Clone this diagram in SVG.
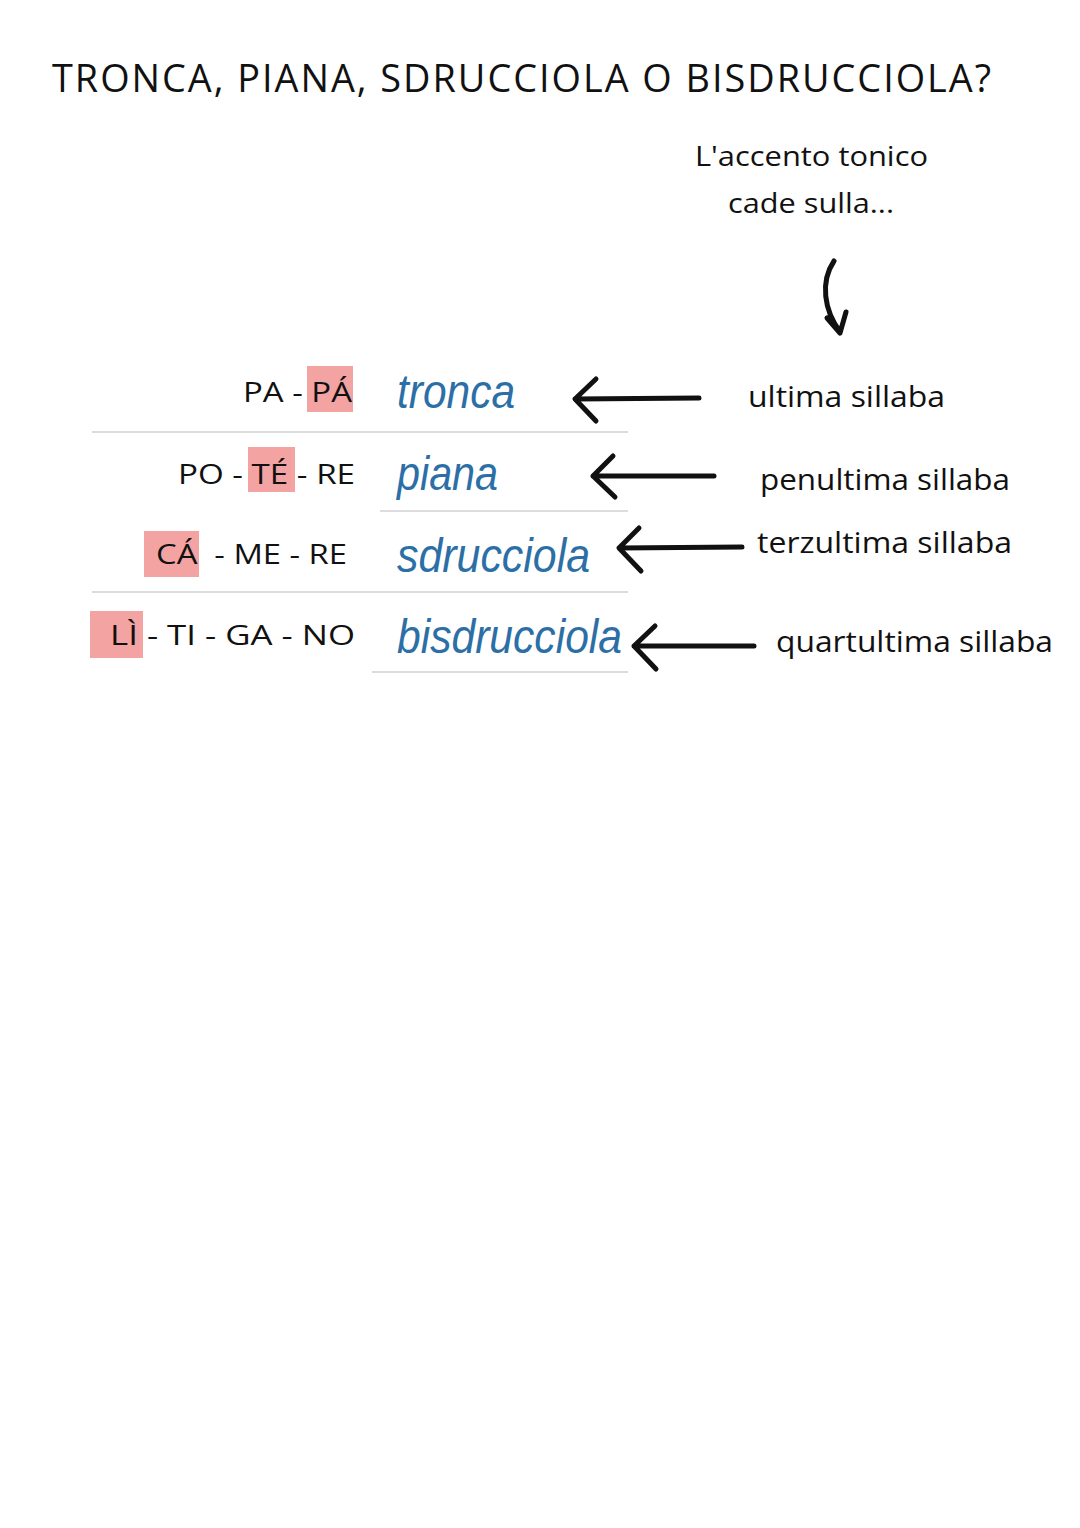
<svg xmlns="http://www.w3.org/2000/svg" width="1080" height="1528" viewBox="0 0 1080 1528">
<style>
.hand{font-family:"Open Sans","Noto Sans",sans-serif;fill:#111}
.title{font-size:38px;letter-spacing:2px}
.note{font-size:28px}
.syl{font-size:27px}
.lbl{font-size:29px}
.blue{font-family:"Liberation Sans",Arial,sans-serif;font-style:italic;font-size:48px;fill:#2c6fa6}
.hl{fill:#f4a3a3}
.sep{stroke:#dcdcdc;stroke-width:2}
.arr{stroke:#111;stroke-width:5;fill:none;stroke-linecap:round;stroke-linejoin:round}
</style>
<rect width="1080" height="1528" fill="#ffffff"/>
<g id="title"><text class="hand title" x="52" y="92" textLength="941" lengthAdjust="spacingAndGlyphs">TRONCA, PIANA, SDRUCCIOLA O BISDRUCCIOLA?</text></g>
<g id="note">
<text class="hand note" x="695" y="166" textLength="233" lengthAdjust="spacingAndGlyphs">L'accento tonico</text>
<text class="hand note" x="728" y="213" textLength="166" lengthAdjust="spacingAndGlyphs">cade sulla...</text>
</g>
<g id="table">
<line class="sep" x1="92" y1="432" x2="628" y2="432"/>
<line class="sep" x1="380" y1="511" x2="628" y2="511"/>
<line class="sep" x1="92" y1="592" x2="628" y2="592"/>
<line class="sep" x1="372" y1="672" x2="628" y2="672"/>
</g>
<g id="row1">
<rect class="hl" x="307" y="366" width="46" height="46"/>
<text class="hand syl" x="243" y="402" textLength="109" lengthAdjust="spacingAndGlyphs">PA - PÁ</text>
<text class="blue" x="397" y="408" textLength="118" lengthAdjust="spacingAndGlyphs">tronca</text>
</g>
<g id="row2">
<rect class="hl" x="248" y="447" width="47" height="45"/>
<text class="hand syl" x="178" y="484" textLength="177" lengthAdjust="spacingAndGlyphs">PO - TÉ - RE</text>
<text class="blue" x="397" y="490" textLength="101" lengthAdjust="spacingAndGlyphs">piana</text>
</g>
<g id="row3">
<rect class="hl" x="144" y="531" width="55" height="46"/>
<text class="hand syl" x="156" y="564" textLength="191" lengthAdjust="spacingAndGlyphs" xml:space="preserve">CÁ  - ME - RE</text>
<text class="blue" x="397" y="572" textLength="193" lengthAdjust="spacingAndGlyphs">sdrucciola</text>
</g>
<g id="row4">
<rect class="hl" x="90" y="611" width="53" height="47"/>
<text class="hand syl" x="110" y="645" textLength="245" lengthAdjust="spacingAndGlyphs">LÌ - TI - GA - NO</text>
<text class="blue" x="397" y="653" textLength="225" lengthAdjust="spacingAndGlyphs">bisdrucciola</text>
</g>
<g id="labels">
<text class="hand lbl" x="748" y="407" textLength="197" lengthAdjust="spacingAndGlyphs">ultima sillaba</text>
<text class="hand lbl" x="760" y="490" textLength="250" lengthAdjust="spacingAndGlyphs">penultima sillaba</text>
<text class="hand lbl" x="757" y="553" textLength="255" lengthAdjust="spacingAndGlyphs">terzultima sillaba</text>
<text class="hand lbl" x="776" y="652" textLength="277" lengthAdjust="spacingAndGlyphs">quartultima sillaba</text>
</g>
<g id="connectors">
<path class="arr" d="M834 261 C820 282 824 310 840 332 M827 318 L840 333 L846 312" stroke-width="6"/>
<path class="arr" d="M699 398 L575 399 M596 379 L575 399 L596 421"/>
<path class="arr" d="M714 476 L593 476 M613 456 L593 476 L615 497"/>
<path class="arr" d="M742 547 L619 548 M639 528 L619 548 L641 571"/>
<path class="arr" d="M754 646 L634 646 M655 626 L634 646 L656 669"/>
</g>
</svg>
